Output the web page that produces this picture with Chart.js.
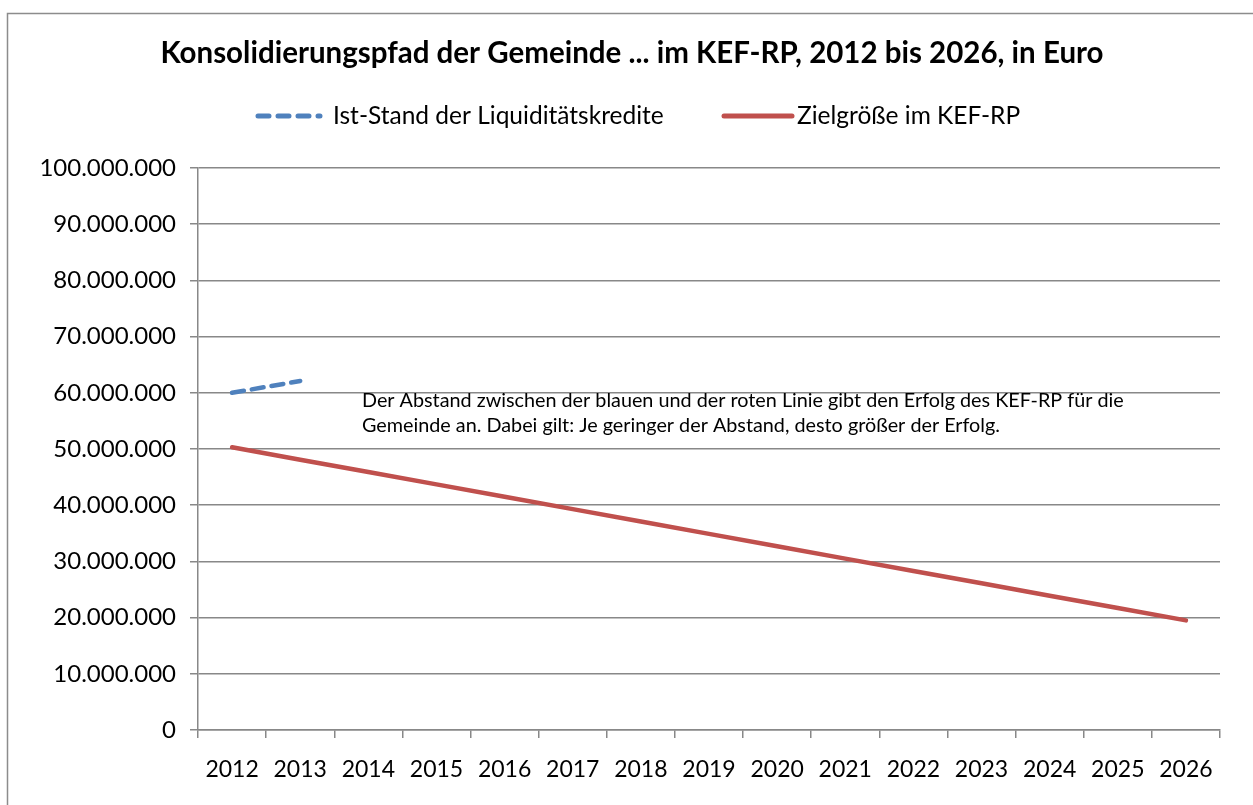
<!DOCTYPE html>
<html>
<head>
<meta charset="utf-8">
<script src="https://cdn.jsdelivr.net/npm/chart.js@4/dist/chart.umd.min.js"></script>
<style>
  html, body { margin: 0; padding: 0; background: #fff; }
  #wrap { width: 1253px; height: 805px; position: relative; }
</style>
</head>
<body>
<div id="wrap"><canvas id="kefChart"></canvas></div>
<script>
const years = ["2012", "2013", "2014", "2015", "2016", "2017", "2018", "2019",
               "2020", "2021", "2022", "2023", "2024", "2025", "2026"];
const istStand = [60000000, 62100000];
const zielgroesse = [50300000, 48100000, 45900000, 43700000, 41500000, 39300000, 37100000,
                     34900000, 32700000, 30500000, 28300000, 26100000, 23900000, 21700000, 19500000];
const yTicks = [0, 10000000, 20000000, 30000000, 40000000, 50000000,
                60000000, 70000000, 80000000, 90000000, 100000000];

const titleText = "Konsolidierungspfad der Gemeinde ... im KEF-RP, 2012 bis 2026, in Euro";
const seriesNames = ["Ist-Stand der Liquiditätskredite", "Zielgröße im KEF-RP"];
const noteLines = [
    "Der Abstand zwischen der blauen und der roten Linie gibt den Erfolg des KEF-RP für die",
    "Gemeinde an. Dabei gilt: Je geringer der Abstand, desto größer der Erfolg."
];

const FONT = "Lato, 'Open Sans', sans-serif";
const blue = "#4F81BD", red = "#C0504D", gridGray = "#888888";

// frame, title, legend and the note box
const extras = {
    id: "extras",
    beforeDraw(chart) {
        const c = chart.ctx;
        c.save();
        c.strokeStyle = "#8c8c8c";
        c.lineWidth = 1.5;
        c.strokeRect(7.5, 13.5, 1400, 1000);
        c.restore();
    },
    afterDraw(chart) {
        const c = chart.ctx;
        c.save();
        c.fillStyle = "#000";
        c.textBaseline = "middle";
        c.textAlign = "center";
        c.font = "bold 29.5px " + FONT;
        c.fillText(titleText, 632, 53);

        // legend
        c.lineCap = "round";
        c.lineWidth = 5;
        c.strokeStyle = blue;
        c.setLineDash([11, 9]);
        c.beginPath(); c.moveTo(258, 116); c.lineTo(320, 116); c.stroke();
        c.setLineDash([]);
        c.strokeStyle = red;
        c.beginPath(); c.moveTo(724, 116); c.lineTo(792, 116); c.stroke();
        c.textAlign = "left";
        c.font = "24.5px " + FONT;
        c.fillText(seriesNames[0], 333, 116);
        c.fillText(seriesNames[1], 797, 116);

        // note
        c.font = "19.8px " + FONT;
        c.fillText(noteLines[0], 362, 401);
        c.fillText(noteLines[1], 362, 426);
        c.restore();
    }
};

new Chart(document.getElementById("kefChart"), {
    type: "line",
    data: {
        labels: years,
        datasets: [
            {
                label: seriesNames[0],
                data: istStand,
                borderColor: blue,
                borderWidth: 4.5,
                borderDash: [12, 8],
                borderCapStyle: "round",
                pointRadius: 0,
                tension: 0
            },
            {
                label: seriesNames[1],
                data: zielgroesse,
                borderColor: red,
                borderWidth: 4.5,
                borderCapStyle: "round",
                pointRadius: 0,
                tension: 0
            }
        ]
    },
    options: {
        responsive: true,
        maintainAspectRatio: false,
        animation: false,
        layout: { padding: { top: 168, right: 33, bottom: 0, left: 0 } },
        plugins: {
            legend: { display: false },
            title: { display: false },
            tooltip: { enabled: false }
        },
        scales: {
            x: {
                offset: true,
                grid: {
                    offset: true,
                    drawOnChartArea: false,
                    drawTicks: true,
                    tickLength: 8,
                    color: gridGray,
                    lineWidth: 1.5
                },
                border: { color: gridGray, width: 1.5 },
                ticks: {
                    color: "#000",
                    font: { family: FONT, size: 23 },
                    padding: 18,
                    maxRotation: 0,
                    autoSkip: false
                },
                afterFit(scale) { scale.height = 75; }
            },
            y: {
                min: 0,
                max: 100000000,
                afterBuildTicks(scale) { scale.ticks = yTicks.map(v => ({ value: v })); },
                grid: {
                    color: gridGray,
                    lineWidth: 1.5,
                    tickLength: 8
                },
                border: { color: gridGray, width: 1.5 },
                ticks: {
                    color: "#000",
                    font: { family: FONT, size: 24 },
                    padding: 14,
                    callback: v => v.toLocaleString("de-DE")
                },
                afterFit(scale) { scale.width = 198; }
            }
        }
    },
    plugins: [extras]
});
</script>
</body>
</html>
